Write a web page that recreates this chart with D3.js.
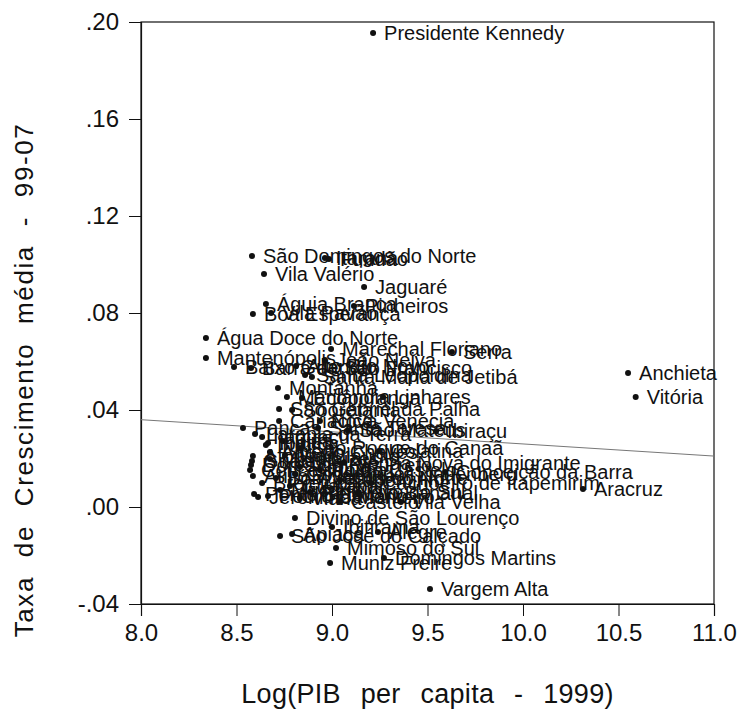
<!DOCTYPE html>
<html>
<head>
<meta charset="utf-8">
<script src="https://cdn.jsdelivr.net/npm/d3@7"></script>
<style>
  html, body { margin: 0; padding: 0; background: #fff; }
  svg { display: block; }
  text { font-family: "Liberation Sans", Arial, Helvetica, sans-serif; fill: #111; }
</style>
</head>
<body>
<svg id="chart" width="744" height="712"></svg>
<script>
// Municípios do Espírito Santo: log do PIB per capita (1999) x taxa média de crescimento (1999-2007)
const municipios = [
  "Presidente Kennedy", "São Domingos do Norte", "Itarana", "Fundão", "Vila Valério",
  "Jaguaré", "Águia Branca", "Pinheiros", "Boa Esperança", "Vila Pavão",
  "Água Doce do Norte", "Marechal Floriano", "Serra", "Mantenópolis", "Baixo Guandu",
  "Alto Rio Novo", "João Neiva", "Barra de São Francisco", "Santa Maria de Jetibá", "Santa Leopoldina",
  "Anchieta", "Vitória", "Montanha", "Marilândia", "Linhares",
  "Ecoporanga", "São Gabriel da Palha", "Sooretama", "Cariacica", "Nova Venécia",
  "Pancas", "Santa Teresa", "Ibiraçu", "São Mateus", "Itaguaçu",
  "Laranja da Terra", "Ibatiba", "Iúna", "Irupi", "São Roque do Canaã",
  "Colatina", "Alfredo Chaves", "Afonso Cláudio", "Guaçuí", "Dores do Rio Preto",
  "Venda Nova do Imigrante", "Conceição do Castelo", "Conceição da Barra", "Iconha", "Piúma",
  "Atílio Vivácqua", "Bom Jesus do Norte", "Itapemirim", "Cachoeiro de Itapemirim", "Guarapari",
  "Brejetuba", "Mucurici", "Rio Novo do Sul", "Rio Bananal", "Ponto Belo",
  "Pedro Canário", "Jerônimo Monteiro", "Viana", "Castelo", "Vila Velha",
  "Governador Lindenberg", "Aracruz", "Divino de São Lourenço", "Ibitirama", "Apiacá",
  "São José do Calçado", "Alegre", "Mimoso do Sul", "Domingos Martins", "Muniz Freire",
  "Vargem Alta", "Marataízes", "Muqui"
];

const logPib = [
  9.215, 8.581, 8.963, 8.984, 8.644,
  9.168, 8.654, 9.115, 8.586, 8.681,
  8.340, 8.995, 9.628, 8.340, 8.487,
  8.812, 8.963, 8.576, 8.895, 8.859,
  10.550, 10.590, 8.717, 8.764, 9.267,
  8.843, 8.723, 8.791, 8.723, 8.937,
  8.534, 8.927, 9.545, 9.084, 8.634,
  8.597, 8.665, 8.743, 8.654, 8.832,
  9.246, 8.675, 8.586, 8.581, 8.576,
  9.063, 8.571, 9.592, 8.832, 8.937,
  8.586, 8.707, 9.042, 9.204, 8.780,
  8.634, 8.728, 8.885, 9.136, 8.592,
  8.665, 8.613, 8.832, 9.042, 9.361,
  8.806, 10.314, 8.806, 9.000, 8.791,
  8.728, 9.241, 9.021, 9.272, 8.990,
  9.513, 8.675, 8.754
];

const crescimento = [
  0.1955, 0.1035, 0.1027, 0.1023, 0.0961,
  0.0907, 0.0837, 0.0829, 0.0796, 0.0800,
  0.0697, 0.0652, 0.0639, 0.0614, 0.0577,
  0.0581, 0.0606, 0.0573, 0.0536, 0.0544,
  0.0553, 0.0454, 0.0491, 0.0454, 0.0454,
  0.0450, 0.0404, 0.0400, 0.0355, 0.0355,
  0.0326, 0.0326, 0.0313, 0.0317, 0.0289,
  0.0301, 0.0264, 0.0272, 0.0256, 0.0243,
  0.0231, 0.0227, 0.0210, 0.0190, 0.0173,
  0.0182, 0.0153, 0.0144, 0.0165, 0.0153,
  0.0128, 0.0120, 0.0111, 0.0099, 0.0087,
  0.0099, 0.0070, 0.0062, 0.0058, 0.0054,
  0.0045, 0.0041, 0.0037, 0.0021, 0.0021,
  0.0136, 0.0074, -0.0045, -0.0082, -0.0111,
  -0.0120, -0.0103, -0.0169, -0.0210, -0.0231,
  -0.0338, 0.0198, 0.0214
];

// Reta de regressão estimada: crescimento = a + b * log(PIB per capita)
const ajusteIntercepto = 0.0760;
const ajusteInclinacao = -0.0050;

const xTicks = [8.0, 8.5, 9.0, 9.5, 10.0, 10.5, 11.0];
const yTicks = [-0.04, 0.00, 0.04, 0.08, 0.12, 0.16, 0.20];

const tituloX = "Log(PIB per capita - 1999)";
const tituloY = "Taxa de Crescimento média - 99-07";

const W = 744, H = 712;
const margin = { top: 22, right: 30, bottom: 108, left: 141 };
const innerW = W - margin.left - margin.right;
const innerH = H - margin.top - margin.bottom;

const svg = d3.select("#chart");
svg.append("rect").attr("width", W).attr("height", H).attr("fill", "#fff");

const g = svg.append("g").attr("transform", `translate(${margin.left},${margin.top})`);

const x = d3.scaleLinear().domain([8.0, 11.0]).range([0, innerW]);
const y = d3.scaleLinear().domain([-0.04, 0.20]).range([innerH, 0]);

// Rótulos do eixo vertical sem o zero à esquerda: .20, .04, -.04
const fmtY = v => (v < -1e-9 ? "-" : "") + Math.abs(v).toFixed(2).replace(/^0/, "");

// Moldura da área do gráfico
g.append("rect")
  .attr("x", 0).attr("y", 0)
  .attr("width", innerW).attr("height", innerH)
  .attr("fill", "none").attr("stroke", "#111").attr("stroke-width", 1.2);

// Eixos
const xAxis = g.append("g")
  .attr("transform", `translate(0,${innerH})`)
  .call(d3.axisBottom(x).tickValues(xTicks).tickSize(12).tickPadding(8).tickFormat(d3.format(".1f")));
const yAxis = g.append("g")
  .call(d3.axisLeft(y).tickValues(yTicks).tickSize(12).tickPadding(10).tickFormat(fmtY));

[xAxis, yAxis].forEach(a => {
  a.select(".domain").attr("stroke", "#111").attr("stroke-width", 1.2);
  a.selectAll(".tick line").attr("stroke", "#111").attr("stroke-width", 1);
  a.selectAll(".tick text")
    .attr("font-family", "Liberation Sans, Arial, sans-serif")
    .attr("font-size", 24).attr("fill", "#111");
});

// Reta ajustada
g.append("clipPath").attr("id", "area").append("rect")
  .attr("width", innerW).attr("height", innerH);

const retaX = x.domain();
g.append("line")
  .attr("clip-path", "url(#area)")
  .attr("x1", x(retaX[0])).attr("y1", y(ajusteIntercepto + ajusteInclinacao * retaX[0]))
  .attr("x2", x(retaX[1])).attr("y2", y(ajusteIntercepto + ajusteInclinacao * retaX[1]))
  .attr("stroke", "#777").attr("stroke-width", 1);

// Pontos e rótulos
const dados = municipios.map((nome, i) => ({ nome, lx: logPib[i], cr: crescimento[i] }));

g.append("g").selectAll("circle")
  .data(dados).join("circle")
  .attr("cx", d => x(d.lx)).attr("cy", d => y(d.cr))
  .attr("r", 3).attr("fill", "#111");

g.append("g").selectAll("text")
  .data(dados).join("text")
  .attr("x", d => x(d.lx) + 11).attr("y", d => y(d.cr))
  .attr("dy", "0.36em")
  .attr("font-size", 20)
  .text(d => d.nome);

// Títulos dos eixos
svg.append("text")
  .attr("x", margin.left + innerW / 2).attr("y", 703)
  .attr("text-anchor", "middle").attr("font-size", 27)
  .attr("letter-spacing", 0.3).attr("word-spacing", 12)
  .text(tituloX);

svg.append("text")
  .attr("transform", "translate(33,380) rotate(-90)")
  .attr("text-anchor", "middle").attr("font-size", 26)
  .attr("letter-spacing", 1.6).attr("word-spacing", 10)
  .text(tituloY);
</script>
</body>
</html>
